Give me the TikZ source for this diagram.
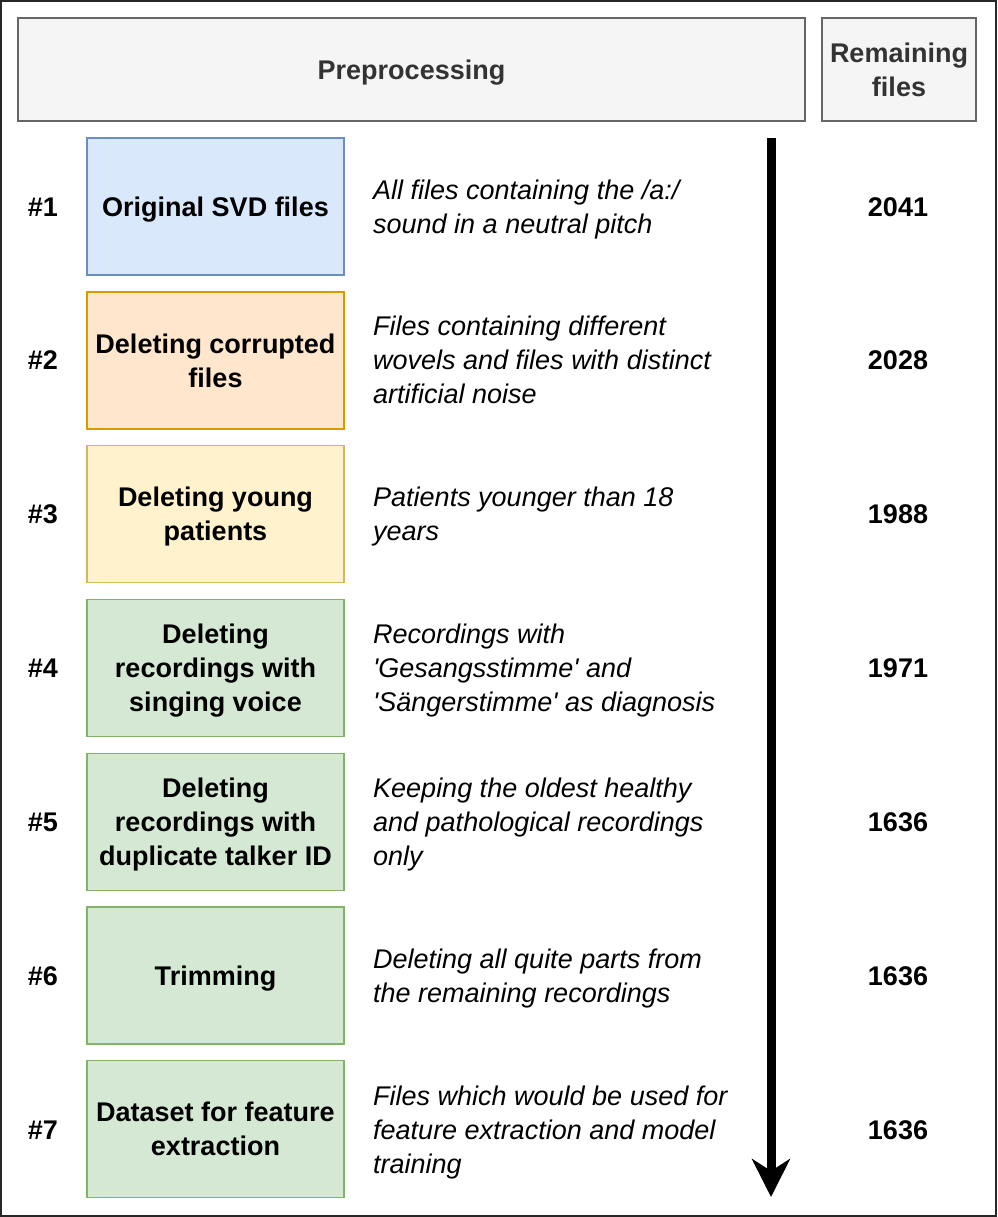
\documentclass[tikz,border=0pt]{standalone}
\usepackage{fontspec}
\setmainfont{Liberation Sans}[Ligatures=TeXOff]
\usetikzlibrary{arrows.meta}
\definecolor{hdrfill}{HTML}{F5F5F5}
\definecolor{hdrline}{HTML}{666666}
\definecolor{hdrtext}{HTML}{333333}
\definecolor{bluefill}{HTML}{DAE8FC}
\definecolor{blueline}{HTML}{6C8EBF}
\definecolor{orfill}{HTML}{FFE6CC}
\definecolor{orline}{HTML}{D79B00}
\definecolor{yefill}{HTML}{FFF2CC}
\definecolor{yeline}{HTML}{D6B656}
\definecolor{grfill}{HTML}{D5E8D4}
\definecolor{grline}{HTML}{82B366}
\newcommand\nd[1]{\raisebox{0pt}[\height][0pt]{#1}}
\begin{document}
\begin{tikzpicture}[x=1pt,y=-1pt,
  every node/.style={font=\fontsize{27}{34}\selectfont, inner sep=0pt},
  hdr/.style={draw=hdrline, fill=hdrfill, line width=1.5pt, text=hdrtext, font=\fontsize{27}{34}\selectfont\bfseries, align=center},
  stepbox/.style={line width=1.5pt, minimum width=257pt, minimum height=137pt, align=center, font=\fontsize{27}{34}\selectfont\bfseries},
  bluebox/.style={stepbox, draw=blueline, fill=bluefill},
  orbox/.style={stepbox, draw=orline, fill=orfill},
  yebox/.style={stepbox, draw=yeline, fill=yefill},
  grbox/.style={stepbox, draw=grline, fill=grfill},
  numlbl/.style={font=\fontsize{27}{34}\selectfont\bfseries},
  desc/.style={anchor=west, align=left, font=\fontsize{27}{34}\selectfont\itshape},
  cnt/.style={font=\fontsize{27}{34}\selectfont\bfseries}
]
\useasboundingbox (0,0) rectangle (997,1217);
\draw[line width=2pt, draw=black!85] (1,1) rectangle (996,1216);

\node[hdr, minimum width=787pt, minimum height=103pt] (pre) at (411.5,69.5) {\nd{Preprocessing}};
\node[hdr, minimum width=154pt, minimum height=103pt] (rem) at (899,69.5) {Remaining\\\nd{files}};

\node[bluebox] (b1) at (215.5,206.5) {\nd{Original SVD files}};
\node[orbox]   (b2) at (215.5,360.5) {Deleting corrupted\\\nd{files}};
\node[yebox]   (b3) at (215.5,514) {Deleting young\\\nd{patients}};
\node[grbox]   (b4) at (215.5,668) {Deleting\\recordings with\\\nd{singing voice}};
\node[grbox]   (b5) at (215.5,822) {Deleting\\recordings with\\\nd{duplicate talker ID}};
\node[grbox]   (b6) at (215.5,975.5) {\nd{Trimming}};
\node[grbox]   (b7) at (215.5,1129) {Dataset for feature\\\nd{extraction}};

\node[numlbl] (n1) at (43,207) {\#1};
\node[numlbl] (n2) at (43,360) {\#2};
\node[numlbl] (n3) at (43,514) {\#3};
\node[numlbl] (n4) at (43,668) {\#4};
\node[numlbl] (n5) at (43,822) {\#5};
\node[numlbl] (n6) at (43,976) {\#6};
\node[numlbl] (n7) at (43,1130) {\#7};

\node[desc] (d1) at (373,207) {All files containing the /a:/\\\nd{sound in a neutral pitch}};
\node[desc] (d2) at (373,360) {Files containing different\\wovels and files with distinct\\\nd{artificial noise}};
\node[desc] (d3) at (373,514) {Patients younger than 18\\\nd{years}};
\node[desc] (d4) at (373,668) {Recordings with\\'Gesangsstimme' and\\\nd{'Sängerstimme' as diagnosis}};
\node[desc] (d5) at (373,822) {Keeping the oldest healthy\\and pathological recordings\\\nd{only}};
\node[desc] (d6) at (373,976) {Deleting all quite parts from\\\nd{the remaining recordings}};
\node[desc] (d7) at (373,1130) {Files which would be used for\\feature extraction and model\\\nd{training}};

\node[cnt] (c1) at (898,207) {2041};
\node[cnt] (c2) at (898,360) {2028};
\node[cnt] (c3) at (898,514) {1988};
\node[cnt] (c4) at (898,668) {1971};
\node[cnt] (c5) at (898,822) {1636};
\node[cnt] (c6) at (898,976) {1636};
\node[cnt] (c7) at (898,1130) {1636};

\coordinate (astart) at (771,138);
\coordinate (aend) at (771,1197);
\draw[line width=9pt, -{Stealth[length=38pt, width=38pt, inset=12pt]}] (astart) -- (aend);
\end{tikzpicture}
\end{document}
